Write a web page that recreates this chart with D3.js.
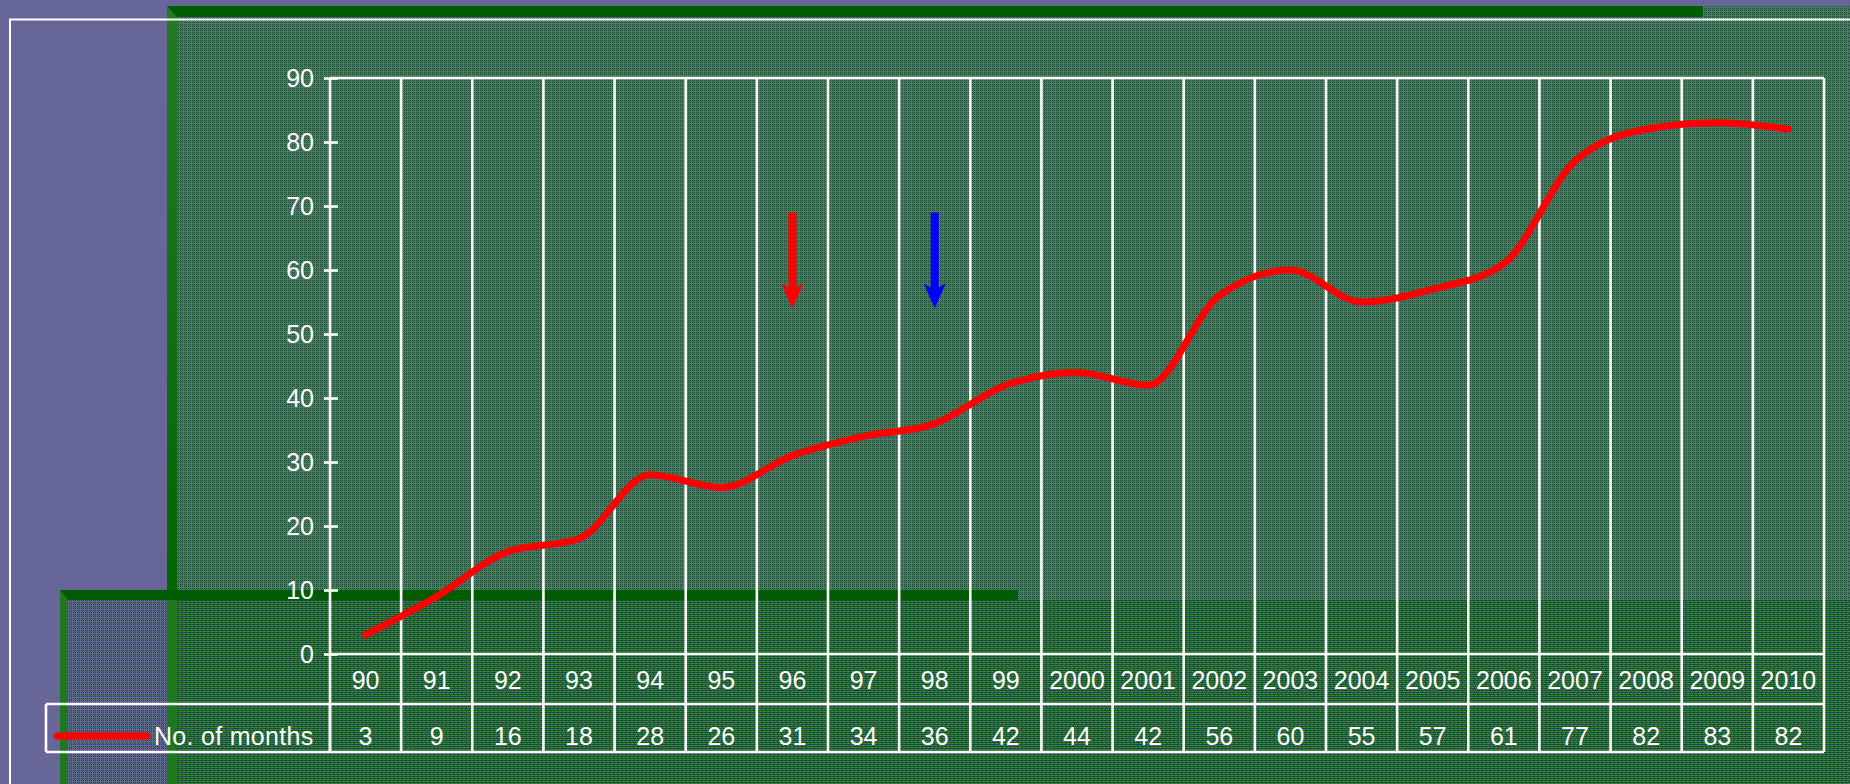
<!DOCTYPE html>
<html><head><meta charset="utf-8">
<script src="https://cdn.jsdelivr.net/npm/d3@7"></script>
<style>html,body{margin:0;padding:0;background:#666699;overflow:hidden}</style>
</head><body>
<svg id="c" width="1850" height="784"></svg>
<script>
// ---- data ----
const years = ["90","91","92","93","94","95","96","97","98","99","2000","2001","2002","2003","2004","2005","2006","2007","2008","2009","2010"];
const months = [3,9,16,18,28,26,31,34,36,42,44,42,56,60,55,57,61,77,82,83,82];
const yTicks = [0,10,20,30,40,50,60,70,80,90];
const seriesName = "No. of months";
const arrowYears = ["96","98"];
const arrowFrom = [69,69];
const arrowTo = [54,54];

// ---- styles ----
const PURPLE = "#666699", GREEN = "#006600", FONT = "'Liberation Sans', Arial, sans-serif";
const arrowColors = ["#ff0000","#0000ff"];

const svg = d3.select("#c");
const defs = svg.append("defs");

// dither pattern (green pixels on transparent)
const cells = [[0,0],[2,0],[1,1],[0,2],[2,2],[4,0],[6,0],[5,1],[4,2],[6,2],
               [0,4],[2,4],[1,5],[0,6],[2,6],[4,4],[6,4],[5,5],[4,6],[6,6]];
function makePattern(id, ox, oy){
  const p = defs.append("pattern").attr("id", id).attr("patternUnits","userSpaceOnUse")
    .attr("width",8).attr("height",8).attr("x",ox).attr("y",oy);
  p.selectAll("rect").data(cells).join("rect")
    .attr("x",d=>d[0]).attr("y",d=>d[1]).attr("width",1).attr("height",1).attr("fill",GREEN);
}
makePattern("pA", 0, 0);
makePattern("pB", 1, 2);
const g1 = defs.append("linearGradient").attr("id","bevA").attr("x1",0).attr("x2",0).attr("y1",0).attr("y2",1);
g1.append("stop").attr("offset","0").attr("stop-color","#237b23");
g1.append("stop").attr("offset","1").attr("stop-color","#006600");

// background
svg.append("rect").attr("width",1850).attr("height",784).attr("fill",PURPLE);
// panel A
svg.append("rect").attr("x",177).attr("y",6).attr("width",1673).attr("height",778).attr("fill","url(#pA)");
svg.append("path").attr("d","M167,6 L177,17 L177,590 L167,590 Z").attr("fill","url(#bevA)");
svg.append("path").attr("d","M167,6 L1703,6 L1703,17 L177,17 Z").attr("fill","#005c00");
// panel B
svg.append("rect").attr("x",68).attr("y",600).attr("width",1782).attr("height",184).attr("fill","url(#pB)");
svg.append("rect").attr("x",167).attr("y",600).attr("width",10).attr("height",184).attr("fill","#1f781f");
svg.append("path").attr("d","M60,590 L68,600 L68,784 L60,784 Z").attr("fill","#1f781f");
svg.append("path").attr("d","M60,590 L1018,590 L1018,600 L68,600 Z").attr("fill","#005c00");
// white frame
svg.append("path").attr("d","M10,790 L10,19.5 L1860,19.5").attr("fill","none").attr("stroke","#fff").attr("stroke-width",2);

// ---- chart ----
const X0 = 330, X1 = 1824, Y0 = 654, Y1 = 78;
const ROW1 = 704, ROW2 = 752, LEG = 46;
const x = d3.scaleBand().domain(years).range([X0, X1]);
const y = d3.scaleLinear().domain([0, 90]).range([Y0, Y1]);
const bw = x.bandwidth();
const W = "#ffffff";
const SW = 2.6;

const grid = svg.append("g").attr("stroke", W).attr("stroke-width", SW).attr("fill","none");
grid.selectAll("line.v").data(years.slice(1).concat(["__end"])).join("line")
  .attr("x1", d => d === "__end" ? X1 : x(d)).attr("x2", d => d === "__end" ? X1 : x(d))
  .attr("y1", y(90)).attr("y2", ROW2);
grid.append("line").attr("x1", X0).attr("x2", X1).attr("y1", y(90)).attr("y2", y(90));
grid.append("line").attr("x1", X0).attr("x2", X1).attr("y1", y(0)).attr("y2", y(0));
grid.append("line").attr("x1", LEG).attr("x2", X1).attr("y1", ROW1).attr("y2", ROW1);
grid.append("line").attr("x1", LEG).attr("x2", X1).attr("y1", ROW2).attr("y2", ROW2);
grid.append("line").attr("x1", LEG).attr("x2", LEG).attr("y1", ROW1).attr("y2", ROW2);
grid.append("line").attr("x1", X0).attr("x2", X0).attr("y1", ROW1).attr("y2", ROW2);

// y axis
const ya = svg.append("g").attr("transform", `translate(${X0},0)`)
  .call(d3.axisLeft(y).tickValues(yTicks).tickSize(6).tickPadding(10).tickFormat(d3.format("d")));
ya.select(".domain").attr("stroke", W).attr("stroke-width", SW).attr("d", `M0,${Y1}V${ROW2}`);
ya.selectAll(".tick line").attr("stroke", W).attr("stroke-width", SW).attr("x1", 8).attr("x2", -6);
ya.selectAll(".tick text").attr("fill", W).attr("font-family", FONT).attr("font-size", 25);

// category labels row
svg.append("g").selectAll("text").data(years).join("text")
  .attr("x", d => x(d) + bw/2).attr("y", 689).attr("text-anchor","middle")
  .attr("fill", W).attr("font-family", FONT).attr("font-size", 25).text(d => d);
// values row
svg.append("g").selectAll("text").data(months).join("text")
  .attr("x", (d,i) => x(years[i]) + bw/2).attr("y", 745).attr("text-anchor","middle")
  .attr("fill", W).attr("font-family", FONT).attr("font-size", 25).text(d => d);
// legend
svg.append("line").attr("x1", 57).attr("x2", 147).attr("y1", 736).attr("y2", 736)
  .attr("stroke", "#ff0000").attr("stroke-width", 7).attr("stroke-linecap","round");
svg.append("text").attr("x", 154).attr("y", 745).attr("fill", W).attr("font-family", FONT)
  .attr("font-size", 25).attr("letter-spacing", 0.3).text(seriesName);

// line
const line = d3.line().x((d,i) => x(years[i]) + bw/2).y(d => y(d)).curve(d3.curveMonotoneX);
svg.append("path").datum(months).attr("d", line).attr("fill","none")
  .attr("stroke","#ff0000").attr("stroke-width",7).attr("stroke-linecap","round").attr("stroke-linejoin","round");

// arrows
arrowYears.forEach((yr, i) => {
  const cx = x(yr) + bw/2, top = y(arrowFrom[i]), tip = y(arrowTo[i]);
  const hl = 21, sw = 4, hw = 11;
  svg.append("path").attr("fill", arrowColors[i])
    .attr("d", `M${cx-sw},${top} L${cx+sw},${top} L${cx+sw},${tip-hl} L${cx+hw},${tip-hl-4} L${cx},${tip} L${cx-hw},${tip-hl-4} L${cx-sw},${tip-hl} Z`);
});
</script>
</body></html>
